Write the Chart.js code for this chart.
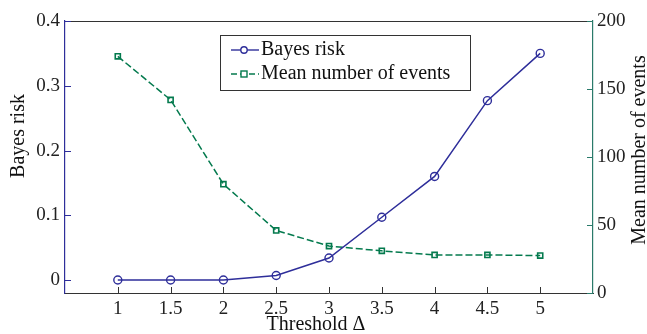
<!DOCTYPE html>
<html>
<head>
<meta charset="utf-8">
<script src="https://cdn.jsdelivr.net/npm/chart.js@4.4.1/dist/chart.umd.min.js"></script>
<style>
html, body { margin: 0; padding: 0; background: #fff; }
</style>
</head>
<body>
<canvas id="myChart" width="647" height="334"></canvas>
<script>
// datos
const thresholds = [1, 1.5, 2, 2.5, 3, 3.5, 4, 4.5, 5];
const bayesRisk = [0, 0, 0, 0.007, 0.034, 0.097, 0.160, 0.277, 0.350];
const meanEvents = [174, 142, 80, 46, 34.5, 31, 28, 28, 27.5];
const xTicks = [1, 1.5, 2, 2.5, 3, 3.5, 4, 4.5, 5];
const riskTicks = [0, 0.1, 0.2, 0.3, 0.4];
const eventTicks = [0, 50, 100, 150, 200];

const blue = '#2e2e9a';
const green = '#047a4e';
const teal = '#2a7a6a';
const dark = '#333333';
const serif = "'Liberation Serif', 'Times New Roman', serif";

Chart.defaults.font.family = serif;
Chart.defaults.font.size = 19;
Chart.defaults.color = '#222';

// ticks hacia adentro, marco superior, titulos y leyenda
const decor = {
    id: 'decor',
    afterDraw(chart) {
        const ctx = chart.ctx;
        const a = chart.chartArea;
        const sx = chart.scales.x, sl = chart.scales.yRisk, sr = chart.scales.yEvents;
        ctx.save();
        ctx.lineWidth = 1;
        // marco superior
        ctx.strokeStyle = dark;
        ctx.beginPath();
        ctx.moveTo(a.left, a.top + 0.5);
        ctx.lineTo(a.right, a.top + 0.5);
        ctx.stroke();
        // ticks eje x
        sx.ticks.forEach(t => {
            const px = Math.round(sx.getPixelForValue(t.value)) + 0.5;
            ctx.beginPath();
            ctx.moveTo(px, a.bottom);
            ctx.lineTo(px, a.bottom - 6);
            ctx.stroke();
        });
        // ticks eje izquierdo
        ctx.strokeStyle = blue;
        sl.ticks.forEach(t => {
            const py = Math.round(sl.getPixelForValue(t.value)) + 0.5;
            ctx.beginPath();
            ctx.moveTo(a.left, py);
            ctx.lineTo(a.left + 6, py);
            ctx.stroke();
        });
        // ticks eje derecho
        ctx.strokeStyle = teal;
        sr.ticks.forEach(t => {
            const py = Math.round(sr.getPixelForValue(t.value)) + 0.5;
            ctx.beginPath();
            ctx.moveTo(a.right, py);
            ctx.lineTo(a.right - 6, py);
            ctx.stroke();
        });

        // titulos de ejes
        ctx.fillStyle = '#111';
        ctx.font = '20px ' + serif;
        ctx.textAlign = 'center';
        ctx.textBaseline = 'middle';
        ctx.fillText('Threshold \u0394', 316, 325);
        ctx.save();
        ctx.translate(19, 136);
        ctx.rotate(-Math.PI / 2);
        ctx.fillText('Bayes risk', 0, 0);
        ctx.restore();
        ctx.save();
        ctx.translate(640, 150);
        ctx.rotate(-Math.PI / 2);
        ctx.fillText('Mean number of events', 0, 0);
        ctx.restore();

        // leyenda
        ctx.fillStyle = '#fff';
        ctx.fillRect(220, 35, 250, 56);
        ctx.strokeStyle = dark;
        ctx.strokeRect(220.5, 35.5, 250, 55);
        ctx.lineWidth = 1.4;
        ctx.strokeStyle = blue;
        ctx.beginPath();
        ctx.moveTo(231, 50);
        ctx.lineTo(259, 50);
        ctx.stroke();
        ctx.beginPath();
        ctx.arc(244, 50, 3.2, 0, Math.PI * 2);
        ctx.fillStyle = '#fff';
        ctx.fill();
        ctx.stroke();
        ctx.strokeStyle = green;
        ctx.setLineDash([6, 3]);
        ctx.beginPath();
        ctx.moveTo(231, 74);
        ctx.lineTo(259, 74);
        ctx.stroke();
        ctx.setLineDash([]);
        ctx.fillRect(241, 71, 6, 6);
        ctx.strokeRect(241, 71, 6, 6);
        ctx.fillStyle = '#111';
        ctx.textAlign = 'left';
        ctx.fillText('Bayes risk', 261, 50);
        ctx.fillText('Mean number of events', 261, 74);
        ctx.restore();
    }
};

const ctx = document.getElementById('myChart').getContext('2d');
new Chart(ctx, {
    type: 'line',
    data: {
        datasets: [{
            label: 'Bayes risk',
            data: thresholds.map((t, i) => ({ x: t, y: bayesRisk[i] })),
            yAxisID: 'yRisk',
            borderColor: blue,
            borderWidth: 1.5,
            pointStyle: 'circle',
            pointRadius: 4,
            pointBorderWidth: 1.4,
            pointBorderColor: blue,
            pointBackgroundColor: 'rgba(255,255,255,0)',
            tension: 0
        }, {
            label: 'Mean number of events',
            data: thresholds.map((t, i) => ({ x: t, y: meanEvents[i] })),
            yAxisID: 'yEvents',
            borderColor: green,
            borderWidth: 1.5,
            borderDash: [7, 3],
            pointStyle: 'rect',
            pointRadius: 3.6,
            pointBorderWidth: 1.6,
            pointBorderColor: green,
            pointBackgroundColor: 'rgba(255,255,255,0)',
            tension: 0
        }]
    },
    options: {
        responsive: false,
        animation: false,
        layout: { padding: { top: 21, left: 0, right: 0, bottom: 0 } },
        plugins: {
            legend: { display: false },
            tooltip: { enabled: false }
        },
        scales: {
            x: {
                type: 'linear',
                min: 0.5,
                max: 5.5,
                afterBuildTicks: s => { s.ticks = xTicks.map(v => ({ value: v })); },
                afterFit: s => { s.height = 41; },
                grid: { display: false, drawTicks: false },
                border: { display: true, color: dark, width: 1 },
                ticks: { padding: 5, maxRotation: 0, callback: v => String(v) }
            },
            yRisk: {
                type: 'linear',
                position: 'left',
                min: -0.02,
                max: 0.4,
                afterBuildTicks: s => { s.ticks = riskTicks.map(v => ({ value: v })); },
                afterFit: s => { s.width = 65; },
                grid: { display: false, drawTicks: false },
                border: { display: true, color: blue, width: 1.2 },
                ticks: { padding: 5, callback: v => String(v) }
            },
            yEvents: {
                type: 'linear',
                position: 'right',
                min: 0,
                max: 200,
                afterBuildTicks: s => { s.ticks = eventTicks.map(v => ({ value: v })); },
                afterFit: s => { s.width = 54; },
                grid: { display: false, drawTicks: false },
                border: { display: true, color: teal, width: 1.2 },
                ticks: { padding: 4, callback: v => String(v) }
            }
        }
    },
    plugins: [decor]
});
</script>
</body>
</html>
